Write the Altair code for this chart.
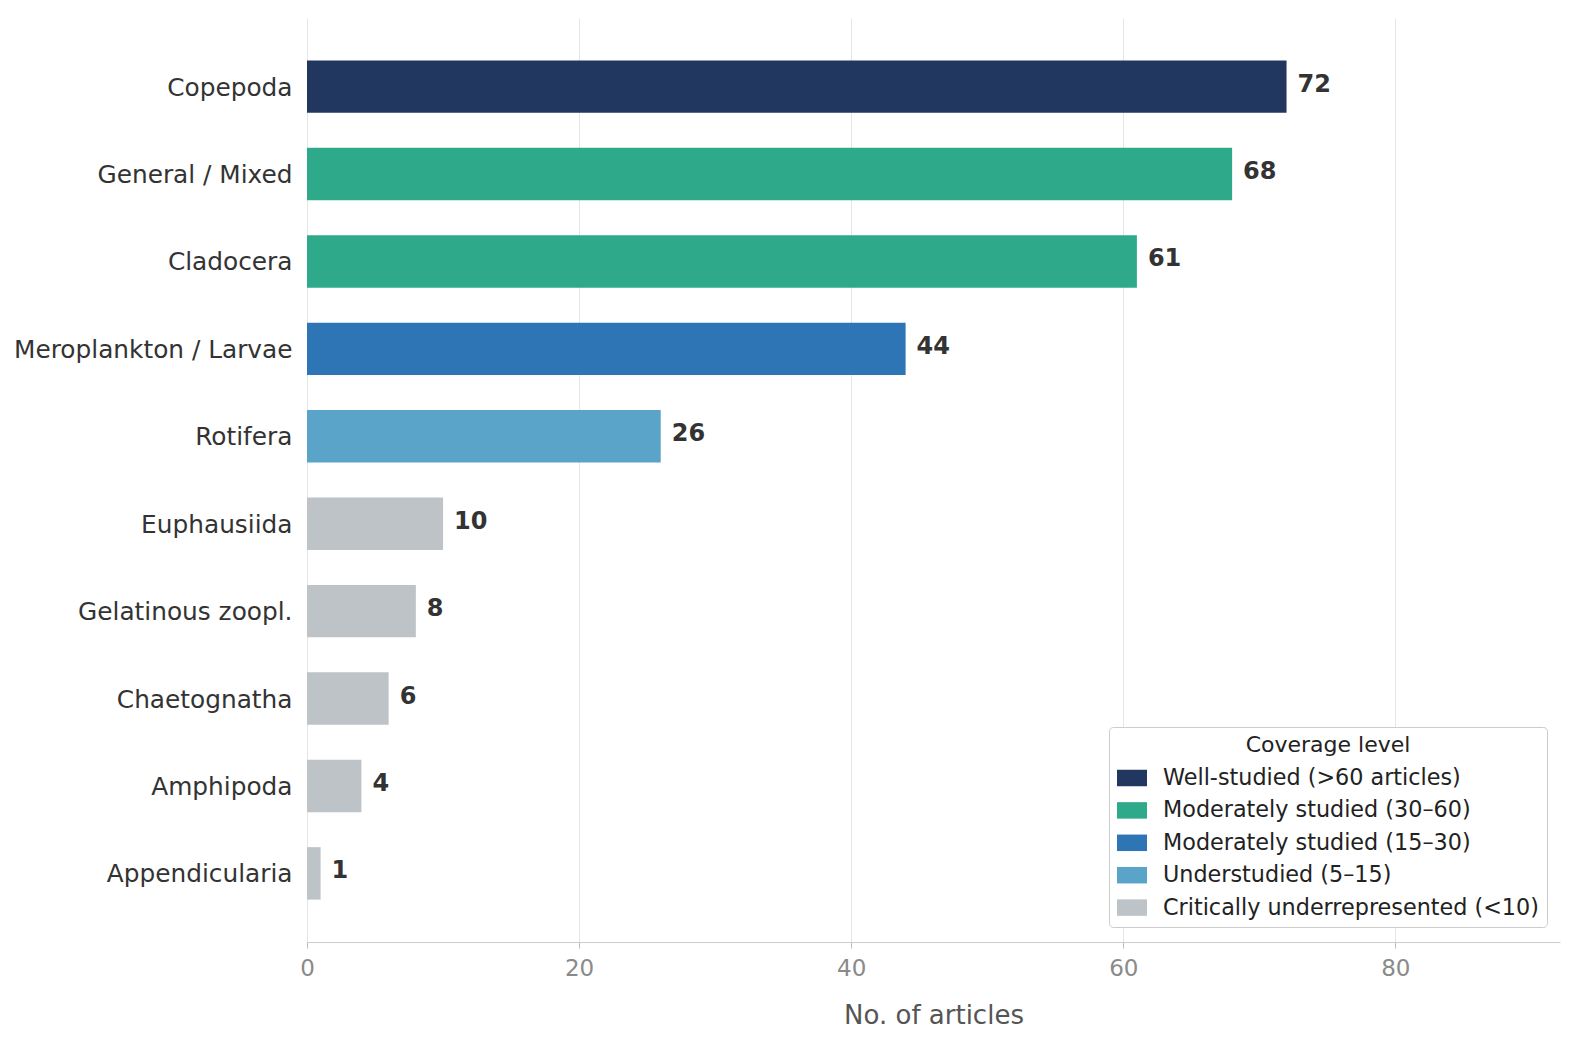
import altair as alt
import pandas as pd

taxa = ["Copepoda", "General / Mixed", "Cladocera", "Meroplankton / Larvae", "Rotifera",
        "Euphausiida", "Gelatinous zoopl.", "Chaetognatha", "Amphipoda", "Appendicularia"]
counts = [72, 68, 61, 44, 26, 10, 8, 6, 4, 1]
levels = ["Well-studied (>60 articles)", "Moderately studied (30–60)", "Moderately studied (30–60)",
          "Moderately studied (15–30)", "Understudied (5–15)",
          "Critically underrepresented (<10)", "Critically underrepresented (<10)",
          "Critically underrepresented (<10)", "Critically underrepresented (<10)",
          "Critically underrepresented (<10)"]
level_order = ["Well-studied (>60 articles)", "Moderately studied (30–60)",
               "Moderately studied (15–30)", "Understudied (5–15)",
               "Critically underrepresented (<10)"]
level_colors = ["#22375f", "#2eaa8a", "#2e75b6", "#5ba4c9", "#bdc3c7"]

df = pd.DataFrame({"taxon": taxa, "count": counts, "level": levels})

FONT = "DejaVu Sans"

y_enc = alt.Y("taxon:N", sort=taxa, title=None,
              scale=alt.Scale(paddingInner=0.4, paddingOuter=0.485),
              axis=alt.Axis(labelFontSize=24.8, labelColor="#333333", labelFont=FONT,
                            ticks=False, domain=False, labelPadding=15, grid=False,
                            labelLimit=400, labelOffset=2))
x_enc = alt.X("count:Q", title="No. of articles",
              scale=alt.Scale(domain=[0, 92.1], nice=False, zero=True),
              axis=alt.Axis(values=[0, 20, 40, 60, 80], labelFontSize=23, labelColor="#8a8a8a",
                            labelFont=FONT, titleFont=FONT, titleFontSize=26,
                            titleFontWeight="normal", titleColor="#555555", titlePadding=22,
                            domainColor="#cccccc", tickColor="#bbbbbb", tickSize=6,
                            labelPadding=9, labelFlush=False, grid=True, gridColor="#e6e6e6"))

bars = alt.Chart(df).mark_bar().encode(
    x=x_enc,
    y=y_enc,
    color=alt.Color("level:N", scale=alt.Scale(domain=level_order, range=level_colors),
                    legend=alt.Legend(title="Coverage level", orient="none",
                                      legendX=802, legendY=709,
                                      titleFontSize=22, titleFont=FONT, titleFontWeight="normal",
                                      titleColor="#222222", titleAnchor="middle",
                                      titlePadding=6,
                                      labelFontSize=22.3, labelFont=FONT, labelColor="#222222",
                                      labelLimit=500, labelOffset=16,
                                      symbolType="M-1,-0.55H1V0.55H-1Z", symbolSize=900,
                                      symbolStrokeWidth=0, symbolOpacity=1,
                                      rowPadding=5.4, padding=8,
                                      fillColor="white", strokeColor="#cccccc",
                                      cornerRadius=4)),
)

labels = alt.Chart(df).mark_text(align="left", baseline="middle", dx=11, dy=-2,
                                 fontSize=24, fontWeight="bold", font=FONT,
                                 color="#333333").encode(
    x=alt.X("count:Q"),
    y=alt.Y("taxon:N", sort=taxa),
    text="count:Q",
)

chart = (bars + labels).properties(
    width=1253, height=924,
    background="white",
    autosize=alt.AutoSizeParams(type="none"),
    padding={"left": 307, "top": 18, "right": 16, "bottom": 100},
).configure_view(strokeWidth=0, stroke=None)

chart.save("out.html", embed_options={"renderer": "svg", "actions": False})
